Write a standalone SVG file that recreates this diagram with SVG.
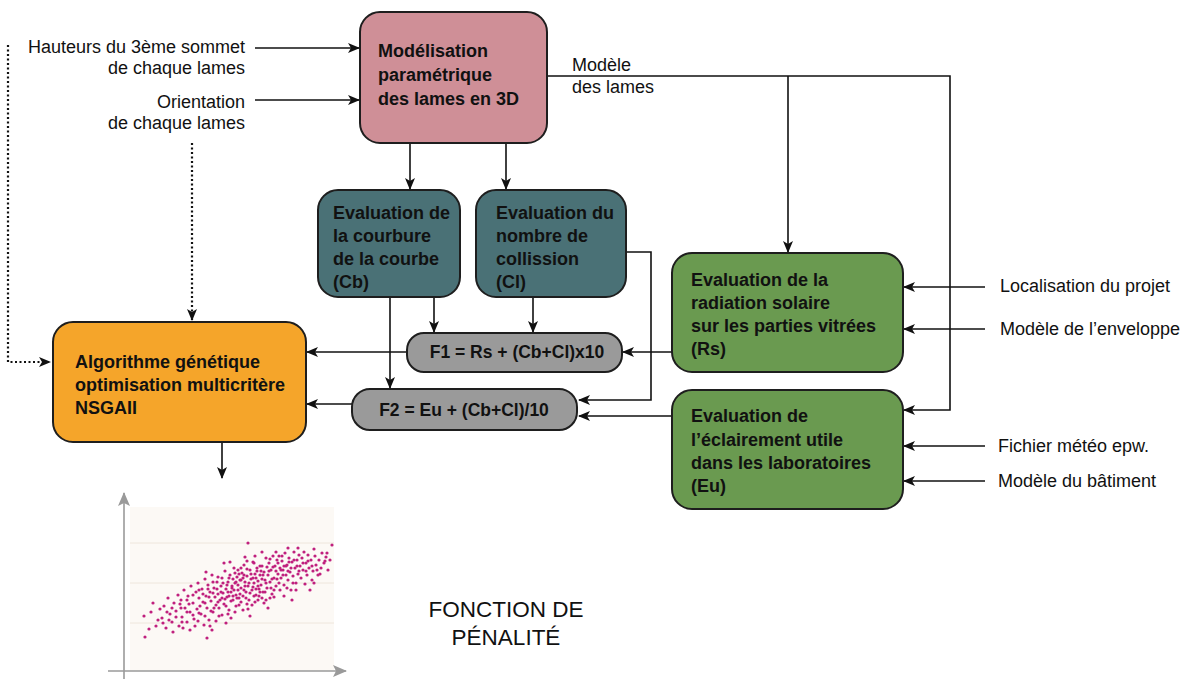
<svg xmlns="http://www.w3.org/2000/svg" width="1189" height="679" viewBox="0 0 1189 679">
<style>
.box{stroke:#1e1e1e;stroke-width:2}
.b{font-family:"Liberation Sans",Arial,sans-serif;font-weight:bold;font-size:18px;fill:#111}
.t{font-family:"Liberation Sans",Arial,sans-serif;font-size:18px;fill:#111}
.c{fill:none;stroke:#111;stroke-width:1.6}
.d{fill:none;stroke:#111;stroke-width:2.2;stroke-dasharray:2 2.5}
.ax{fill:none;stroke:#9a9a9a;stroke-width:1.6}
.g{stroke:#eee6dc;stroke-width:1}
.p circle{fill:#c0207e}
</style>
<defs>
<marker id="ah" markerUnits="userSpaceOnUse" markerWidth="12" markerHeight="10" refX="11" refY="5" orient="auto">
<path d="M0,0 L12,5 L0,10 L3,5 Z" fill="#111"/>
</marker>
<marker id="ag" markerUnits="userSpaceOnUse" markerWidth="14" markerHeight="12" refX="13" refY="6" orient="auto">
<path d="M0,0 L14,6 L0,12 L3,6 Z" fill="#9a9a9a"/>
</marker>
</defs>
<rect width="1189" height="679" fill="#fff"/>

<g id="labels-left">
<text class="t" x="245" y="53" text-anchor="end">Hauteurs du 3ème sommet</text>
<text class="t" x="245" y="74" text-anchor="end">de chaque lames</text>
<text class="t" x="245" y="108" text-anchor="end">Orientation</text>
<text class="t" x="245" y="129" text-anchor="end">de chaque lames</text>
</g>
<g id="label-modele">
<text class="t" x="572" y="71">Modèle</text>
<text class="t" x="572" y="93">des lames</text>
</g>
<g id="labels-right">
<text class="t" x="1000" y="292">Localisation du projet</text>
<text class="t" x="1000" y="335">Modèle de l’enveloppe</text>
<text class="t" x="998" y="452">Fichier météo epw.</text>
<text class="t" x="998" y="487">Modèle du bâtiment</text>
</g>

<g id="connectors">
<line class="c" x1="255" y1="48" x2="359" y2="48" marker-end="url(#ah)"/>
<line class="c" x1="255" y1="100" x2="359" y2="100" marker-end="url(#ah)"/>
<polyline class="d" points="8,45 8,362 50,362" marker-end="url(#ah)"/>
<line class="d" x1="192" y1="143" x2="192" y2="320" marker-end="url(#ah)"/>
<polyline class="c" points="547,76 950,76 950,410 904,410" marker-end="url(#ah)"/>
<line class="c" x1="788" y1="76" x2="788" y2="252" marker-end="url(#ah)"/>
<line class="c" x1="410" y1="143" x2="410" y2="189" marker-end="url(#ah)"/>
<line class="c" x1="506" y1="143" x2="506" y2="189" marker-end="url(#ah)"/>
<line class="c" x1="434" y1="297" x2="434" y2="332" marker-end="url(#ah)"/>
<line class="c" x1="390" y1="297" x2="390" y2="388" marker-end="url(#ah)"/>
<line class="c" x1="533" y1="297" x2="533" y2="332" marker-end="url(#ah)"/>
<polyline class="c" points="626,252 651,252 651,400 579,400" marker-end="url(#ah)"/>
<line class="c" x1="407" y1="352" x2="307" y2="352" marker-end="url(#ah)"/>
<line class="c" x1="352" y1="404" x2="307" y2="404" marker-end="url(#ah)"/>
<line class="c" x1="672" y1="352" x2="623" y2="352" marker-end="url(#ah)"/>
<line class="c" x1="672" y1="416" x2="579" y2="416" marker-end="url(#ah)"/>
<line class="c" x1="985" y1="287" x2="904" y2="287" marker-end="url(#ah)"/>
<line class="c" x1="985" y1="329" x2="904" y2="329" marker-end="url(#ah)"/>
<line class="c" x1="985" y1="446" x2="904" y2="446" marker-end="url(#ah)"/>
<line class="c" x1="985" y1="481" x2="904" y2="481" marker-end="url(#ah)"/>
<line class="c" x1="222" y1="442" x2="222" y2="478" marker-end="url(#ah)"/>
</g>

<g id="n-modelisation">
<rect class="box" x="360" y="12" width="187" height="131" rx="20" fill="#cf8f97"/>
<text class="b" x="378" y="57">Modélisation</text>
<text class="b" x="378" y="81">paramétrique</text>
<text class="b" x="378" y="105">des lames en 3D</text>
</g>
<g id="n-courbure">
<rect class="box" x="318" y="190" width="142" height="107" rx="20" fill="#4a7176"/>
<text class="b" x="333" y="219">Evaluation de</text>
<text class="b" x="333" y="242">la courbure</text>
<text class="b" x="333" y="265">de la courbe</text>
<text class="b" x="333" y="288">(Cb)</text>
</g>
<g id="n-collision">
<rect class="box" x="476" y="190" width="150" height="107" rx="20" fill="#4a7176"/>
<text class="b" x="496" y="219">Evaluation du</text>
<text class="b" x="496" y="242">nombre de</text>
<text class="b" x="496" y="265">collission</text>
<text class="b" x="496" y="288">(Cl)</text>
</g>
<g id="n-radiation">
<rect class="box" x="672" y="253" width="231" height="119" rx="20" fill="#6a9a50"/>
<text class="b" x="691" y="286">Evaluation de la</text>
<text class="b" x="691" y="309">radiation solaire</text>
<text class="b" x="691" y="332">sur les parties vitrées</text>
<text class="b" x="691" y="355">(Rs)</text>
</g>
<g id="n-eclairement">
<rect class="box" x="672" y="390" width="231" height="119" rx="20" fill="#6a9a50"/>
<text class="b" x="691" y="422">Evaluation de</text>
<text class="b" x="691" y="446">l’éclairement utile</text>
<text class="b" x="691" y="469">dans les laboratoires</text>
<text class="b" x="691" y="492">(Eu)</text>
</g>
<g id="n-algorithme">
<rect class="box" x="53" y="322" width="253" height="120" rx="20" fill="#f5a52a"/>
<text class="b" x="75" y="368">Algorithme génétique</text>
<text class="b" x="75" y="391">optimisation multicritère</text>
<text class="b" x="75" y="414">NSGAII</text>
</g>
<g id="n-f1">
<rect class="box" x="407" y="333" width="215" height="39" rx="17" fill="#9a9a9a"/>
<text class="b" x="517" y="358" text-anchor="middle" style="font-size:17.5px">F1 = Rs + (Cb+Cl)x10</text>
</g>
<g id="n-f2">
<rect class="box" x="352" y="389" width="225" height="41" rx="18" fill="#9a9a9a"/>
<text class="b" x="464" y="416" text-anchor="middle" style="font-size:17.5px">F2 = Eu + (Cb+Cl)/10</text>
</g>

<g id="chart">
<rect x="130" y="507" width="204" height="164" fill="#fcf9f5"/>
<line class="g" x1="130" y1="543" x2="334" y2="543"/>
<line class="g" x1="130" y1="583" x2="334" y2="583"/>
<line class="g" x1="130" y1="623" x2="334" y2="623"/>
<line class="ax" x1="124" y1="679" x2="124" y2="493" marker-end="url(#ag)"/>
<line class="ax" x1="108" y1="671" x2="346" y2="671" marker-end="url(#ag)"/>
<g class="p">
<circle cx="144" cy="616" r="1.6"/><circle cx="145" cy="637" r="1.6"/><circle cx="151" cy="612" r="1.6"/><circle cx="153" cy="603" r="1.6"/><circle cx="156" cy="626" r="1.6"/><circle cx="158" cy="620" r="1.6"/><circle cx="149" cy="629" r="1.6"/><circle cx="160" cy="609" r="1.6"/>
<circle cx="162" cy="618" r="1.6"/><circle cx="164" cy="606" r="1.6"/><circle cx="166" cy="628" r="1.6"/><circle cx="168" cy="598" r="1.6"/><circle cx="170" cy="614" r="1.6"/><circle cx="172" cy="622" r="1.6"/><circle cx="174" cy="603" r="1.6"/><circle cx="176" cy="611" r="1.6"/><circle cx="178" cy="595" r="1.6"/><circle cx="179" cy="626" r="1.6"/><circle cx="167" cy="612" r="1.6"/><circle cx="173" cy="632" r="1.6"/>
<circle cx="181" cy="600" r="1.6"/><circle cx="182" cy="617" r="1.6"/><circle cx="184" cy="590" r="1.6"/><circle cx="185" cy="608" r="1.6"/><circle cx="187" cy="622" r="1.6"/><circle cx="188" cy="596" r="1.6"/><circle cx="190" cy="612" r="1.6"/><circle cx="191" cy="586" r="1.6"/><circle cx="193" cy="603" r="1.6"/><circle cx="194" cy="619" r="1.6"/><circle cx="196" cy="592" r="1.6"/><circle cx="197" cy="609" r="1.6"/><circle cx="199" cy="598" r="1.6"/><circle cx="183" cy="628" r="1.6"/><circle cx="189" cy="604" r="1.6"/><circle cx="195" cy="626" r="1.6"/><circle cx="198" cy="583" r="1.6"/>
<circle cx="201" cy="614" r="1.6"/><circle cx="202" cy="589" r="1.6"/><circle cx="203" cy="602" r="1.6"/><circle cx="205" cy="579" r="1.6"/><circle cx="206" cy="596" r="1.6"/><circle cx="207" cy="608" r="1.6"/><circle cx="208" cy="585" r="1.6"/><circle cx="209" cy="620" r="1.6"/><circle cx="210" cy="592" r="1.6"/><circle cx="211" cy="601" r="1.6"/><circle cx="212" cy="575" r="1.6"/><circle cx="213" cy="612" r="1.6"/><circle cx="214" cy="588" r="1.6"/><circle cx="215" cy="597" r="1.6"/><circle cx="216" cy="605" r="1.6"/><circle cx="217" cy="582" r="1.6"/><circle cx="218" cy="594" r="1.6"/><circle cx="219" cy="616" r="1.6"/><circle cx="204" cy="625" r="1.6"/><circle cx="207" cy="638" r="1.6"/><circle cx="212" cy="630" r="1.6"/><circle cx="220" cy="600" r="1.6"/><circle cx="206" cy="572" r="1.6"/>
<circle cx="221" cy="586" r="1.6"/><circle cx="222" cy="578" r="1.6"/><circle cx="223" cy="593" r="1.6"/><circle cx="224" cy="604" r="1.6"/><circle cx="225" cy="571" r="1.6"/><circle cx="226" cy="589" r="1.6"/><circle cx="227" cy="597" r="1.6"/><circle cx="228" cy="582" r="1.6"/><circle cx="229" cy="610" r="1.6"/><circle cx="230" cy="575" r="1.6"/><circle cx="231" cy="592" r="1.6"/><circle cx="232" cy="586" r="1.6"/><circle cx="233" cy="600" r="1.6"/><circle cx="234" cy="568" r="1.6"/><circle cx="235" cy="583" r="1.6"/><circle cx="236" cy="595" r="1.6"/><circle cx="237" cy="577" r="1.6"/><circle cx="238" cy="590" r="1.6"/><circle cx="239" cy="605" r="1.6"/><circle cx="222" cy="615" r="1.6"/><circle cx="226" cy="623" r="1.6"/><circle cx="231" cy="618" r="1.6"/><circle cx="235" cy="612" r="1.6"/><circle cx="240" cy="580" r="1.6"/><circle cx="224" cy="563" r="1.6"/><circle cx="230" cy="562" r="1.6"/><circle cx="238" cy="570" r="1.6"/><circle cx="233" cy="579" r="1.6"/><circle cx="227" cy="585" r="1.6"/>
<circle cx="241" cy="588" r="1.6"/><circle cx="242" cy="573" r="1.6"/><circle cx="243" cy="596" r="1.6"/><circle cx="244" cy="565" r="1.6"/><circle cx="245" cy="582" r="1.6"/><circle cx="246" cy="592" r="1.6"/><circle cx="247" cy="576" r="1.6"/><circle cx="248" cy="586" r="1.6"/><circle cx="249" cy="600" r="1.6"/><circle cx="250" cy="570" r="1.6"/><circle cx="251" cy="579" r="1.6"/><circle cx="252" cy="590" r="1.6"/><circle cx="253" cy="562" r="1.6"/><circle cx="254" cy="583" r="1.6"/><circle cx="255" cy="574" r="1.6"/><circle cx="256" cy="595" r="1.6"/><circle cx="257" cy="568" r="1.6"/><circle cx="258" cy="581" r="1.6"/><circle cx="259" cy="589" r="1.6"/><circle cx="260" cy="575" r="1.6"/><circle cx="243" cy="610" r="1.6"/><circle cx="248" cy="543" r="1.6"/><circle cx="252" cy="605" r="1.6"/><circle cx="245" cy="557" r="1.6"/><circle cx="255" cy="556" r="1.6"/><circle cx="258" cy="600" r="1.6"/><circle cx="250" cy="616" r="1.6"/><circle cx="241" cy="580" r="1.6"/><circle cx="247" cy="569" r="1.6"/><circle cx="253" cy="587" r="1.6"/><circle cx="256" cy="578" r="1.6"/>
<circle cx="261" cy="585" r="1.6"/><circle cx="262" cy="566" r="1.6"/><circle cx="263" cy="592" r="1.6"/><circle cx="264" cy="572" r="1.6"/><circle cx="265" cy="580" r="1.6"/><circle cx="266" cy="558" r="1.6"/><circle cx="267" cy="588" r="1.6"/><circle cx="268" cy="575" r="1.6"/><circle cx="269" cy="563" r="1.6"/><circle cx="270" cy="582" r="1.6"/><circle cx="271" cy="570" r="1.6"/><circle cx="272" cy="594" r="1.6"/><circle cx="273" cy="556" r="1.6"/><circle cx="274" cy="578" r="1.6"/><circle cx="275" cy="566" r="1.6"/><circle cx="276" cy="586" r="1.6"/><circle cx="277" cy="560" r="1.6"/><circle cx="278" cy="574" r="1.6"/><circle cx="279" cy="583" r="1.6"/><circle cx="280" cy="568" r="1.6"/><circle cx="264" cy="603" r="1.6"/><circle cx="270" cy="598" r="1.6"/><circle cx="276" cy="552" r="1.6"/><circle cx="262" cy="552" r="1.6"/><circle cx="268" cy="608" r="1.6"/><circle cx="274" cy="590" r="1.6"/><circle cx="279" cy="556" r="1.6"/>
<circle cx="281" cy="578" r="1.6"/><circle cx="282" cy="561" r="1.6"/><circle cx="283" cy="570" r="1.6"/><circle cx="284" cy="585" r="1.6"/><circle cx="285" cy="553" r="1.6"/><circle cx="286" cy="575" r="1.6"/><circle cx="287" cy="565" r="1.6"/><circle cx="288" cy="580" r="1.6"/><circle cx="289" cy="558" r="1.6"/><circle cx="290" cy="572" r="1.6"/><circle cx="291" cy="590" r="1.6"/><circle cx="292" cy="562" r="1.6"/><circle cx="293" cy="576" r="1.6"/><circle cx="294" cy="552" r="1.6"/><circle cx="295" cy="568" r="1.6"/><circle cx="296" cy="583" r="1.6"/><circle cx="297" cy="560" r="1.6"/><circle cx="298" cy="574" r="1.6"/><circle cx="299" cy="555" r="1.6"/><circle cx="300" cy="566" r="1.6"/><circle cx="284" cy="596" r="1.6"/><circle cx="292" cy="600" r="1.6"/><circle cx="288" cy="548" r="1.6"/><circle cx="296" cy="590" r="1.6"/>
<circle cx="301" cy="578" r="1.6"/><circle cx="302" cy="558" r="1.6"/><circle cx="303" cy="570" r="1.6"/><circle cx="304" cy="552" r="1.6"/><circle cx="305" cy="584" r="1.6"/><circle cx="306" cy="563" r="1.6"/><circle cx="307" cy="575" r="1.6"/><circle cx="308" cy="555" r="1.6"/><circle cx="309" cy="568" r="1.6"/><circle cx="311" cy="560" r="1.6"/><circle cx="312" cy="580" r="1.6"/><circle cx="313" cy="571" r="1.6"/><circle cx="315" cy="556" r="1.6"/><circle cx="316" cy="565" r="1.6"/><circle cx="318" cy="575" r="1.6"/><circle cx="319" cy="560" r="1.6"/><circle cx="310" cy="590" r="1.6"/><circle cx="314" cy="549" r="1.6"/>
<circle cx="321" cy="568" r="1.6"/><circle cx="322" cy="553" r="1.6"/><circle cx="324" cy="563" r="1.6"/><circle cx="326" cy="557" r="1.6"/><circle cx="328" cy="570" r="1.6"/><circle cx="330" cy="560" r="1.6"/><circle cx="332" cy="545" r="1.6"/>
<circle cx="232" cy="588" r="1.6"/><circle cx="236" cy="582" r="1.6"/><circle cx="244" cy="590" r="1.6"/><circle cx="249" cy="583" r="1.6"/><circle cx="253" cy="578" r="1.6"/><circle cx="258" cy="586" r="1.6"/><circle cx="262" cy="579" r="1.6"/><circle cx="266" cy="583" r="1.6"/><circle cx="240" cy="594" r="1.6"/><circle cx="246" cy="598" r="1.6"/><circle cx="254" cy="596" r="1.6"/><circle cx="260" cy="592" r="1.6"/><circle cx="228" cy="592" r="1.6"/><circle cx="222" cy="598" r="1.6"/><circle cx="218" cy="602" r="1.6"/><circle cx="214" cy="608" r="1.6"/><circle cx="238" cy="585" r="1.6"/><circle cx="243" cy="578" r="1.6"/><circle cx="251" cy="574" r="1.6"/><circle cx="257" cy="571" r="1.6"/><circle cx="263" cy="575" r="1.6"/><circle cx="269" cy="571" r="1.6"/><circle cx="273" cy="567" r="1.6"/><circle cx="278" cy="563" r="1.6"/><circle cx="284" cy="566" r="1.6"/><circle cx="289" cy="562" r="1.6"/><circle cx="294" cy="560" r="1.6"/><circle cx="283" cy="575" r="1.6"/><circle cx="288" cy="571" r="1.6"/><circle cx="277" cy="579" r="1.6"/><circle cx="271" cy="588" r="1.6"/><circle cx="265" cy="592" r="1.6"/><circle cx="259" cy="596" r="1.6"/><circle cx="247" cy="604" r="1.6"/><circle cx="239" cy="598" r="1.6"/><circle cx="231" cy="601" r="1.6"/><circle cx="226" cy="606" r="1.6"/><circle cx="219" cy="608" r="1.6"/><circle cx="211" cy="611" r="1.6"/><circle cx="205" cy="616" r="1.6"/><circle cx="199" cy="613" r="1.6"/><circle cx="193" cy="615" r="1.6"/><circle cx="187" cy="612" r="1.6"/><circle cx="181" cy="608" r="1.6"/><circle cx="176" cy="617" r="1.6"/><circle cx="169" cy="620" r="1.6"/><circle cx="163" cy="623" r="1.6"/><circle cx="200" cy="606" r="1.6"/><circle cx="205" cy="603" r="1.6"/><circle cx="209" cy="597" r="1.6"/><circle cx="213" cy="593" r="1.6"/><circle cx="217" cy="589" r="1.6"/><circle cx="221" cy="592" r="1.6"/><circle cx="225" cy="599" r="1.6"/><circle cx="229" cy="596" r="1.6"/><circle cx="234" cy="590" r="1.6"/><circle cx="237" cy="598" r="1.6"/><circle cx="241" cy="602" r="1.6"/><circle cx="245" cy="586" r="1.6"/><circle cx="250" cy="593" r="1.6"/><circle cx="256" cy="589" r="1.6"/><circle cx="261" cy="571" r="1.6"/><circle cx="267" cy="567" r="1.6"/><circle cx="272" cy="579" r="1.6"/><circle cx="276" cy="571" r="1.6"/><circle cx="281" cy="570" r="1.6"/><circle cx="286" cy="566" r="1.6"/><circle cx="291" cy="568" r="1.6"/><circle cx="297" cy="566" r="1.6"/><circle cx="303" cy="563" r="1.6"/><circle cx="308" cy="561" r="1.6"/><circle cx="312" cy="566" r="1.6"/><circle cx="317" cy="570" r="1.6"/><circle cx="299" cy="571" r="1.6"/><circle cx="293" cy="583" r="1.6"/><circle cx="287" cy="588" r="1.6"/><circle cx="280" cy="590" r="1.6"/><circle cx="274" cy="597" r="1.6"/><circle cx="266" cy="600" r="1.6"/><circle cx="255" cy="602" r="1.6"/><circle cx="248" cy="609" r="1.6"/><circle cx="236" cy="606" r="1.6"/><circle cx="228" cy="614" r="1.6"/><circle cx="216" cy="621" r="1.6"/><circle cx="210" cy="626" r="1.6"/><circle cx="198" cy="621" r="1.6"/><circle cx="190" cy="630" r="1.6"/><circle cx="182" cy="622" r="1.6"/><circle cx="260" cy="566" r="1.6"/><circle cx="254" cy="563" r="1.6"/><circle cx="247" cy="561" r="1.6"/><circle cx="241" cy="568" r="1.6"/><circle cx="235" cy="573" r="1.6"/><circle cx="229" cy="578" r="1.6"/><circle cx="223" cy="583" r="1.6"/><circle cx="218" cy="577" r="1.6"/><circle cx="213" cy="582" r="1.6"/><circle cx="208" cy="589" r="1.6"/><circle cx="203" cy="594" r="1.6"/><circle cx="199" cy="590" r="1.6"/><circle cx="193" cy="595" r="1.6"/><circle cx="187" cy="600" r="1.6"/><circle cx="180" cy="604" r="1.6"/><circle cx="172" cy="608" r="1.6"/><circle cx="244" cy="575" r="1.6"/><circle cx="239" cy="574" r="1.6"/><circle cx="233" cy="596" r="1.6"/><circle cx="262" cy="598" r="1.6"/><circle cx="270" cy="559" r="1.6"/><circle cx="282" cy="556" r="1.6"/><circle cx="298" cy="548" r="1.6"/><circle cx="306" cy="571" r="1.6"/><circle cx="314" cy="583" r="1.6"/><circle cx="320" cy="574" r="1.6"/><circle cx="325" cy="561" r="1.6"/><circle cx="327" cy="553" r="1.6"/>
</g>
</g>
<g id="label-penalite">
<text class="t" x="506" y="617" text-anchor="middle" style="font-size:22.5px">FONCTION DE</text>
<text class="t" x="506" y="645" text-anchor="middle" style="font-size:22.5px">PÉNALITÉ</text>
</g>
</svg>
